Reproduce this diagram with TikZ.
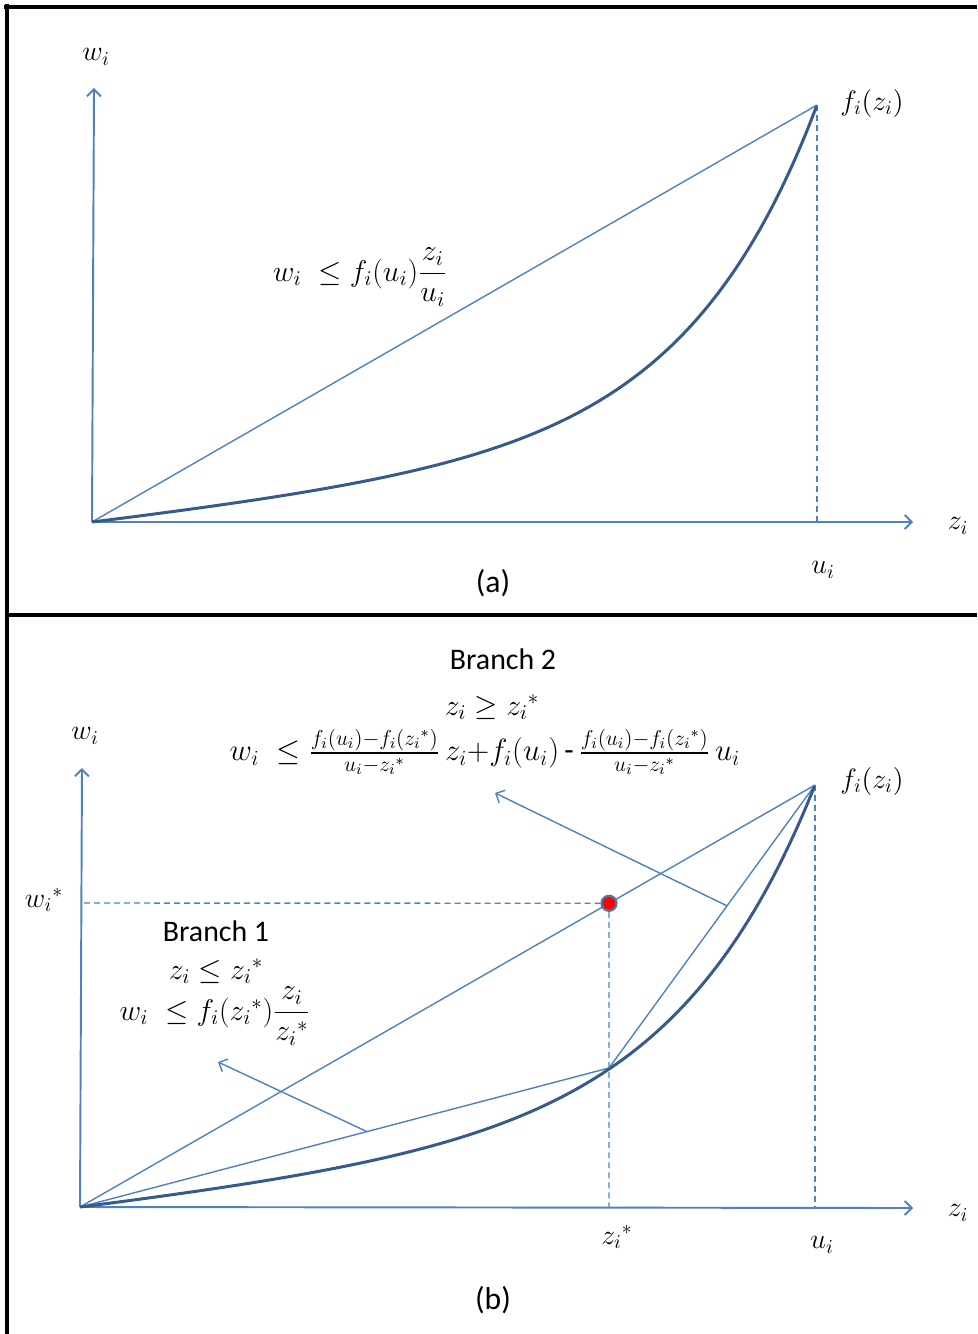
\RequirePackage{fix-cm}
\documentclass[tikz,border=0pt]{standalone}
\usepackage{amsmath}
\usepackage{amssymb}
\usepackage{fontspec}
\setmainfont{Carlito}
\usepackage{tikz}
\usetikzlibrary{arrows.meta,positioning,calc}
\usepackage{xcolor}
\definecolor{axisblue}{RGB}{79,129,189}
\definecolor{curveblue}{RGB}{54,90,140}
\newcommand{\zstar}{{z_i}^{*}}

\begin{document}
\begin{tikzpicture}[
  x=0.02cm, y=-0.02cm,
  font=\fontsize{16}{19}\selectfont,
  axis/.style={-{Straight Barb[length=4pt,width=8pt]}, draw=axisblue, line width=1.1pt},
  thin/.style={draw=axisblue, line width=0.8pt},
  guide/.style={draw=axisblue, line width=0.8pt, dash pattern=on 3.4pt off 2.3pt},
  curve/.style={draw=curveblue, line width=1.7pt},
  arr/.style={-{Straight Barb[length=4pt,width=8pt]}, draw=axisblue, line width=0.8pt},
  frame/.style={draw=black, line width=2.8pt},
  lbl/.style={inner sep=1pt},
  dot/.style={circle, fill=red, draw=curveblue!85, line width=1.3pt,
              inner sep=0pt, minimum size=8.5pt}
]
  \useasboundingbox (0,0) rectangle (977,1334);

  % --- outer frame ---
  \draw[frame] (7,4) -- (7,1334);
  \draw[frame] (4,7) -- (977,7);
  \draw[frame] (7,615) -- (977,615);

  % ===== Panel (a) =====
  \coordinate (oa) at (92,522);
  \coordinate (pa) at (817,105);
  \coordinate (ua) at (817,522);

  % --- axes ---
  \draw[axis] (oa) -- (94,88);
  \draw[axis] (oa) -- (913,522);
  \node[lbl] (wa) at (96,57) {$w_i$};
  \node[lbl] (za) at (958,526) {$z_i$};

  % --- chord, guide and curve ---
  \draw[thin] (oa) -- (pa);
  \draw[guide] (pa) -- (ua);
  \draw[curve] plot[domain=0:1, samples=80, smooth, variable=\t]
       ({92+725*\t}, {522-417*(0.2*\t+0.8*(exp(5.5*\t)-1)/(exp(5.5)-1))});

  \node[lbl] (fa) at (872,103) {$f_i(z_i)$};
  \node[lbl] (uaL) at (823,570) {$u_i$};
  \node[lbl, font=\fontsize{17}{20}\selectfont] (ineqa) at (360,277)
       {$w_i\;\leq f_i(u_i)\dfrac{z_i}{u_i}$};
  \node[lbl, font=\fontsize{18}{21}\selectfont] (capa) at (493,583) {(a)};

  % ===== Panel (b) =====
  \coordinate (ob) at (80,1207);
  \coordinate (pb) at (815,785);
  \coordinate (ub) at (815,1207);
  \coordinate (zs) at (609,1068);
  \coordinate (zsb) at (609,1207);

  % --- axes ---
  \draw[axis] (ob) -- (82,768);
  \draw[axis] (ob) -- (913,1208);
  \node[lbl] (wb) at (85,736) {$w_i$};
  \node[lbl] (zb) at (958,1213) {$z_i$};

  % --- chords and curve ---
  \draw[thin] (ob) -- (pb);
  \draw[thin] (ob) -- (zs);
  \draw[thin] (zs) -- (pb);
  \draw[guide] (pb) -- (ub);
  \draw[curve] plot[domain=0:1, samples=80, smooth, variable=\t]
       ({80+735*\t}, {1207-422*(0.2*\t+0.8*(exp(5.2*\t)-1)/(exp(5.2)-1))});

  % --- the point (z_i^*, w_i^*) ---
  \node[dot] (star) at ($(ob)!0.7197!(pb)$) {};
  \draw[guide] (84,903) -- (star);
  \draw[guide] (star) -- (zsb);

  \node[lbl] (fb) at (872,781) {$f_i(z_i)$};
  \node[lbl] (ubL) at (822,1245) {$u_i$};
  \node[lbl] (zsL) at (617,1237) {$\zstar$};
  \node[lbl] (wsL) at (44,900) {${w_i}^{*}$};

  % --- Branch 1 ---
  \coordinate (b1from) at ($(ob)!0.5425!(zs)$);
  \coordinate (b1tip) at (218,1062);
  \draw[arr] (b1from) -- (b1tip);
  \node[lbl, font=\fontsize{17}{20}\selectfont] (b1) at (216,931) {Branch 1};
  \node[lbl, font=\fontsize{17}{20}\selectfont] (b1c) at (216,971) {$z_i\leq\zstar$};
  \node[lbl, font=\fontsize{17}{20}\selectfont] (b1w) at (215,1016)
       {$w_i\;\leq f_i(\zstar)\dfrac{z_i}{\zstar}$};

  % --- Branch 2 ---
  \coordinate (b2from) at ($(zs)!0.573!(pb)$);
  \coordinate (b2tip) at (495,793);
  \draw[arr] (b2from) -- (b2tip);
  \node[lbl, font=\fontsize{17}{20}\selectfont] (b2) at (503,659) {Branch 2};
  \node[lbl, font=\fontsize{17}{20}\selectfont] (b2c) at (492,707) {$z_i\geq\zstar$};
  \node[lbl, font=\fontsize{17.5}{20}\selectfont] (b2w) at (485,752)
       {$w_i\;\leq \tfrac{f_i(u_i){-}f_i(\zstar)}{u_i{-}\zstar}\,z_i{+}f_i(u_i)\,\text{-}\,\tfrac{f_i(u_i){-}f_i(\zstar)}{u_i{-}\zstar}\,u_i$};

  \node[lbl, font=\fontsize{18}{21}\selectfont] (capb) at (493,1300) {(b)};
\end{tikzpicture}
\end{document}
